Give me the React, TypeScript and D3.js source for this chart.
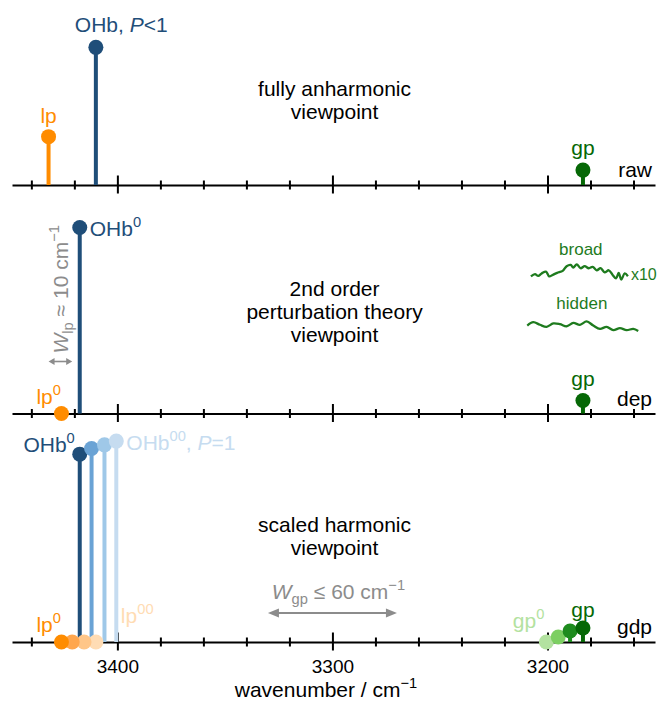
import React, { useEffect, useRef } from "react";
import * as d3 from "d3";

// panels, top to bottom
const panelNames = ["raw", "dep", "gdp"];
const viewpointText = [
  ["fully anharmonic", "viewpoint"],
  ["2nd order", "perturbation theory", "viewpoint"],
  ["scaled harmonic", "viewpoint"],
];

const majorTicks = [3400, 3300, 3200];
const minorTicks = [3440, 3420, 3380, 3360, 3340, 3320, 3280, 3260, 3240, 3220, 3180, 3160];

// raw panel: lp, OHb, gp
const rawWn = [3432, 3410, 3183.5];
const rawInt = [0.26, 0.74, 0.08];

// dep panel: lp0, OHb0, gp
const depWn = [3426, 3417.5, 3183.5];
const depInt = [0, 1.0, 0.07];

// gdp panel, from 0 to 00 (P=1)
const gdpOHbWn = [3417.5, 3412, 3406, 3400.5];
const gdpOHbInt = [1.01, 1.04, 1.06, 1.08];
const gdpLpWn = [3426, 3421, 3415.5, 3410];
const gdpLpInt = [0, 0, 0, 0];
const gdpGpWn = [3200.5, 3195, 3189.5, 3183.5];
const gdpGpInt = [0, 0.027, 0.059, 0.075];

// hand-drawn gp traces in the dep panel
const broadWn = [3207.7, 3205.8, 3204.3, 3202.7, 3200.7, 3199.2, 3197.6, 3195.5, 3192.9, 3191.1, 3189.2, 3188.0, 3186.4, 3184.6, 3182.7, 3180.8, 3179.0, 3177.1, 3175.3, 3173.4, 3171.5, 3169.7, 3168.1, 3166.9, 3165.7, 3164.1, 3162.6];
const broadInt = [0.737, 0.749, 0.74, 0.753, 0.763, 0.737, 0.745, 0.756, 0.767, 0.792, 0.799, 0.785, 0.802, 0.781, 0.792, 0.781, 0.788, 0.77, 0.781, 0.759, 0.77, 0.745, 0.727, 0.756, 0.72, 0.753, 0.738];
const hiddenWn = [3209.4, 3206.6, 3203.5, 3200.4, 3197.3, 3194.2, 3191.1, 3188.0, 3184.9, 3181.8, 3178.7, 3175.6, 3172.5, 3169.4, 3166.3, 3163.2, 3160.1, 3157.8];
const hiddenInt = [0.473, 0.491, 0.477, 0.466, 0.484, 0.48, 0.469, 0.487, 0.477, 0.495, 0.473, 0.455, 0.466, 0.448, 0.459, 0.448, 0.455, 0.444];

// width arrows
const wgpArrow = [3330, 3270];
const wlpArrow = [3432, 3421];

const blues = ["#1f4e79", "#6aa3d5", "#9fc8e8", "#c6dcf0"];
const oranges = ["#ff8c00", "#ffa64d", "#ffc688", "#ffdcb4"];
const greens = ["#b3e2a0", "#7ccf62", "#1e8c1e", "#066806"];
const grey = "#8c8c8c";
const textGreen = "#1e7b1e";

const width = 657;
const height = 705;
const font = "'Liberation Sans', Arial, sans-serif";

export default function App() {
  const ref = useRef<SVGSVGElement>(null);

  useEffect(() => {
    const svg = d3.select(ref.current);
    svg.selectAll("*").remove();

    const x = d3.scaleLinear().domain([3449, 3150]).range([12, 655]);
    const axisY = d3.scalePoint().domain(panelNames).range([185, 642]);
    const yUnit = d3.scaleLinear().domain([0, 1]).range([0, 186]);

    const panel = (name: string) =>
      svg.append("g").attr("transform", `translate(0,${axisY(name)})`);
    const yOf = (v: number) => -yUnit(v);

    const stem = (g: any, wn: number, v: number, color: string) => {
      if (v > 0) {
        g.append("line")
          .attr("x1", x(wn)).attr("x2", x(wn))
          .attr("y1", 0).attr("y2", yOf(v))
          .attr("stroke", color).attr("stroke-width", 4);
      }
      g.append("circle")
        .attr("cx", x(wn)).attr("cy", yOf(v))
        .attr("r", 7.5).attr("fill", color);
    };

    const label = (g: any, px: number, py: number, anchor: string, color: string, parts: [string, string?][], size = 21) => {
      const t = g.append("text")
        .attr("x", px).attr("y", py)
        .attr("text-anchor", anchor)
        .attr("fill", color)
        .attr("font-family", font)
        .attr("font-size", size);
      parts.forEach(([s, kind]) => {
        const ts = t.append("tspan").text(s);
        if (kind === "i") ts.attr("font-style", "italic");
        if (kind === "sup") ts.attr("font-size", size * 0.7).attr("dy", -size * 0.42);
        if (kind === "sub") ts.attr("font-size", size * 0.7).attr("dy", size * 0.25);
        if (kind === "base") ts.attr("dy", -size * 0.25);
        if (kind === "base2") ts.attr("dy", size * 0.42);
      });
      return t;
    };

    const arrow = (g: any, a0: number, a1: number, ay: number, head: number, half: number, sw: number) => {
      g.append("line")
        .attr("x1", a0 + head * 0.7).attr("x2", a1 - head * 0.7)
        .attr("y1", ay).attr("y2", ay)
        .attr("stroke", grey).attr("stroke-width", sw);
      g.append("path")
        .attr("d", `M${a0},${ay} L${a0 + head},${ay - half} L${a0 + head},${ay + half} Z`)
        .attr("fill", grey);
      g.append("path")
        .attr("d", `M${a1},${ay} L${a1 - head},${ay - half} L${a1 - head},${ay + half} Z`)
        .attr("fill", grey);
    };

    const drawAxis = (g: any, withLabels: boolean) => {
      const minor = g.append("g").call(
        d3.axisBottom(x).tickValues(minorTicks).tickSize(0).tickFormat(() => "")
      );
      minor.select(".domain").remove();
      minor.selectAll(".tick line").attr("y1", -4.5).attr("y2", 4.5).attr("stroke", "#000").attr("stroke-width", 2);

      const major = g.append("g").call(
        d3.axisBottom(x).tickValues(majorTicks).tickSizeOuter(0).tickSize(0)
          .tickFormat((d: any) => (withLabels ? String(d) : ""))
      );
      major.select(".domain").attr("stroke", "#000").attr("stroke-width", 2);
      major.selectAll(".tick line").attr("y1", -9.5).attr("y2", 8.5).attr("stroke", "#000").attr("stroke-width", 2);
      major.selectAll(".tick text")
        .attr("y", 31).attr("dy", 0)
        .attr("font-family", font).attr("font-size", 19).attr("fill", "#000");
    };

    const viewText = (g: any, lines: string[], y0: number) => {
      lines.forEach((s, i) => {
        g.append("text")
          .attr("x", x(3299)).attr("y", y0 + i * 23)
          .attr("text-anchor", "middle")
          .attr("font-family", font).attr("font-size", 21)
          .attr("fill", "#000").text(s);
      });
    };

    const panelLabel = (g: any, name: string) => {
      g.append("text")
        .attr("x", 652).attr("y", -8)
        .attr("text-anchor", "end")
        .attr("font-family", font).attr("font-size", 21)
        .text(name);
    };

    // ---------- raw ----------
    const g1 = panel("raw");
    drawAxis(g1, false);
    stem(g1, rawWn[0], rawInt[0], oranges[0]);
    stem(g1, rawWn[1], rawInt[1], blues[0]);
    stem(g1, rawWn[2], rawInt[2], greens[3]);
    label(g1, x(rawWn[0]), yOf(rawInt[0]) - 14, "middle", oranges[0], [["lp"]]);
    label(g1, x(rawWn[1]) - 21, yOf(rawInt[1]) - 15, "start", blues[0], [["OHb, "], ["P", "i"], ["<1"]]);
    label(g1, x(rawWn[2]), yOf(rawInt[2]) - 15, "middle", greens[3], [["gp"]]);
    viewText(g1, viewpointText[0], -89);
    panelLabel(g1, "raw");

    // ---------- dep ----------
    const g2 = panel("dep");
    drawAxis(g2, false);
    stem(g2, depWn[1], depInt[1], blues[0]);
    stem(g2, depWn[0], depInt[0], oranges[0]);
    stem(g2, depWn[2], depInt[2], greens[3]);
    label(g2, x(depWn[1]) + 10, yOf(depInt[1]) + 8, "start", blues[0], [["OHb"], ["0", "sup"]]);
    label(g2, x(depWn[0]) - 25, -10, "start", oranges[0], [["lp"], ["0", "sup"]]);
    label(g2, x(depWn[2]), yOf(depInt[2]) - 14, "middle", greens[3], [["gp"]]);
    viewText(g2, viewpointText[1], -118);
    panelLabel(g2, "dep");

    const trace = d3.line<number>()
      .x((d) => x(d))
      .curve(d3.curveCatmullRom);
    g2.append("path")
      .attr("d", trace.y((_d, i) => yOf(broadInt[i]))(broadWn))
      .attr("fill", "none").attr("stroke", textGreen).attr("stroke-width", 2.3)
      .attr("stroke-linejoin", "round");
    g2.append("path")
      .attr("d", trace.y((_d, i) => yOf(hiddenInt[i]))(hiddenWn))
      .attr("fill", "none").attr("stroke", textGreen).attr("stroke-width", 2.3)
      .attr("stroke-linejoin", "round");
    label(g2, x(3184.5), yOf(0.85), "middle", textGreen, [["broad"]], 17);
    label(g2, x(3184), yOf(0.56), "middle", textGreen, [["hidden"]], 17);
    label(g2, x(broadWn[broadWn.length - 1]) + 3, yOf(broadInt[broadInt.length - 1]) + 4, "start", textGreen, [["x10"]], 16);

    // W_lp: horizontal arrow + rotated label
    arrow(g2, x(wlpArrow[0]), x(wlpArrow[1]), -52, 6, 3.5, 1.6);
    const wlp = g2.append("g").attr("transform", `translate(${x(3423)},${-60}) rotate(-90)`);
    label(wlp, 0, 0, "start", grey, [["W", "i"], ["lp", "sub"], [" \u2248 10 cm", "base"], ["\u22121", "sup"]]);

    // ---------- gdp ----------
    const g3 = panel("gdp");
    drawAxis(g3, true);
    gdpOHbWn.forEach((wn, i) => stem(g3, wn, gdpOHbInt[i], blues[i]));
    [3, 2, 1, 0].forEach((i) => stem(g3, gdpLpWn[i], gdpLpInt[i], oranges[i]));
    gdpGpWn.forEach((wn, i) => stem(g3, wn, gdpGpInt[i], greens[i]));

    label(g3, x(gdpOHbWn[0]) - 5, -190, "end", blues[0], [["OHb"], ["0", "sup"]]);
    label(g3, x(gdpOHbWn[3]) + 10, -192, "start", blues[3], [["OHb"], ["00", "sup"], [", ", "base2"], ["P", "i"], ["=1"]]);
    label(g3, x(gdpLpWn[0]) - 25, -10, "start", oranges[0], [["lp"], ["0", "sup"]]);
    label(g3, x(gdpLpWn[3]) + 25, -19, "start", oranges[3], [["lp"], ["00", "sup"]]);
    label(g3, x(gdpGpWn[0]) - 2, -14, "end", greens[0], [["gp"], ["0", "sup"]]);
    label(g3, x(gdpGpWn[3]), yOf(gdpGpInt[3]) - 11, "middle", greens[3], [["gp"]]);
    viewText(g3, viewpointText[2], -110);
    panelLabel(g3, "gdp");

    // W_gp arrow
    const [a0, a1] = wgpArrow.map((d) => x(d));
    arrow(g3, a0, a1, -29, 11, 4.5, 2);
    label(g3, (a0 + a1) / 2 + 6, -43, "middle", grey, [["W", "i"], ["gp", "sub"], [" \u2264 60 cm", "base"], ["\u22121", "sup"]]);

    // x label
    label(svg, 326, 697, "middle", "#000", [["wavenumber / cm"], ["\u22121", "sup"]]);
  }, []);

  return (
    <svg
      ref={ref}
      width={width}
      height={height}
      style={{ position: "absolute", left: 0, top: 0, background: "#fff" }}
    />
  );
}
